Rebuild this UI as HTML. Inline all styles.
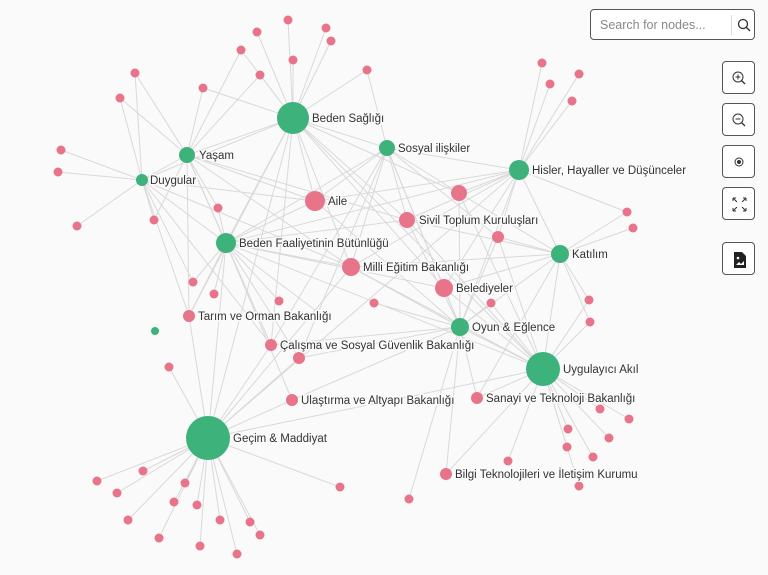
<!DOCTYPE html><html><head><meta charset="utf-8"><style>
body{margin:0;width:768px;height:575px;background:#fafafa;overflow:hidden;font-family:"Liberation Sans",sans-serif;position:relative}
svg{position:absolute;left:0;top:0}
.lab{font-size:11.5px;fill:#333;paint-order:stroke;stroke:#fafafa;stroke-width:3px}
.search{position:absolute;left:590px;top:9px;width:165px;height:31px;border:1px solid #555;border-radius:4px;background:#fff;box-sizing:border-box}
.search span{position:absolute;left:9px;top:8px;font-size:12.5px;color:#888}
.search i{position:absolute;left:140px;top:5px;width:1px;height:20px;background:#ddd}
.btn{position:absolute;left:722px;width:33px;height:33px;border:1px solid #555;border-radius:4px;background:#fff;box-sizing:border-box}
</style></head><body>
<svg width="768" height="575" id="g"><g id="edges" stroke="#d9d9d9" stroke-width="1"></g><g id="nodes"></g>
<g class="lab">
<text x="312" y="122">Beden Sağlığı</text>
<text x="199" y="159">Yaşam</text>
<text x="150" y="184">Duygular</text>
<text x="398" y="152">Sosyal ilişkiler</text>
<text x="532" y="174">Hisler, Hayaller ve Düşünceler</text>
<text x="328" y="205">Aile</text>
<text x="419" y="224">Sivil Toplum Kuruluşları</text>
<text x="239" y="247">Beden Faaliyetinin Bütünlüğü</text>
<text x="572" y="258">Katılım</text>
<text x="363" y="271">Milli Eğitim Bakanlığı</text>
<text x="456" y="292">Belediyeler</text>
<text x="198" y="320">Tarım ve Orman Bakanlığı</text>
<text x="472" y="331">Oyun &amp; Eğlence</text>
<text x="280" y="349">Çalışma ve Sosyal Güvenlik Bakanlığı</text>
<text x="563" y="373">Uygulayıcı Akıl</text>
<text x="486" y="402">Sanayi ve Teknoloji Bakanlığı</text>
<text x="301" y="404">Ulaştırma ve Altyapı Bakanlığı</text>
<text x="233" y="442">Geçim &amp; Maddiyat</text>
<text x="455" y="478">Bilgi Teknolojileri ve İletişim Kurumu</text>
</g></svg>
<div class="search"><span>Search for nodes...</span><i></i>
<svg width="14" height="14" style="left:146px;top:8px"><circle cx="6" cy="6" r="4.5" fill="none" stroke="#333" stroke-width="1.3"/><line x1="9" y1="9" x2="13" y2="13" stroke="#333" stroke-width="1.3"/></svg></div>
<div class="btn" style="top:61px"><svg width="33" height="33"><circle cx="15" cy="15" r="5" fill="none" stroke="#333"/><line x1="18.5" y1="18.5" x2="22" y2="22" stroke="#333" stroke-width="1.3"/><path d="M12.5 15h5M15 12.5v5" stroke="#333"/></svg></div>
<div class="btn" style="top:103px"><svg width="33" height="33"><circle cx="15" cy="15" r="5" fill="none" stroke="#333"/><line x1="18.5" y1="18.5" x2="22" y2="22" stroke="#333" stroke-width="1.3"/><path d="M12.5 15h5" stroke="#333"/></svg></div>
<div class="btn" style="top:145px"><svg width="33" height="33"><circle cx="16" cy="16" r="4" fill="none" stroke="#333"/><circle cx="16" cy="16" r="2" fill="#333"/></svg></div>
<div class="btn" style="top:187px"><svg width="33" height="33" stroke="#333" fill="none"><path d="M10 10l4 4M10 10h3M10 10v3M23 10l-4 4M23 10h-3M23 10v3M10 23l4-4M10 23h3M10 23v-3M23 23l-4-4M23 23h-3M23 23v-3"/></svg></div>
<div class="btn" style="top:242px"><svg width="33" height="33"><path d="M11 9h8l4 4v12h-12z" fill="#222"/><path d="M13 22l3-3 2 2 3-3v4h-8z" fill="#fff"/><circle cx="15" cy="15" r="1.3" fill="#fff"/></svg></div>
<script>
var G=[[293,118,16],[187,155,8],[142,180,6],[387,148,8],[519,170,10],[226,243,10],[560,254,9],[460,327,9],[543,369,17],[208,438,22],[155,331,4]];
var P=[[315,201,10],[407,220,8],[351,267,9],[444,288,9],[459,193,8],[189,316,6],[271,345,6],[292,400,6],[477,398,6],[446,474,6],[299,358,6],[498,237,6]];
var S=[[288,20],[257,32],[326,28],[331,41],[241,50],[293,60],[260,75],[367,70],[135,73],[203,88],[120,98],[61,150],[58,172],[218,208],[154,220],[77,226],[193,282],[214,294],[279,301],[323,316],[374,303],[491,303],[542,63],[579,74],[550,84],[572,101],[627,212],[633,228],[589,300],[590,322],[169,367],[600,409],[629,419],[568,429],[567,447],[609,438],[593,457],[579,486],[508,461],[409,499],[340,487],[97,481],[143,471],[117,493],[185,483],[174,502],[197,505],[128,520],[159,538],[200,546],[237,554],[220,520],[250,522],[260,535]];
var E=document.getElementById('edges'),N=document.getElementById('nodes'),ns='http://www.w3.org/2000/svg';
function L(a,b){var l=document.createElementNS(ns,'line');l.setAttribute('x1',a[0]);l.setAttribute('y1',a[1]);l.setAttribute('x2',b[0]);l.setAttribute('y2',b[1]);E.appendChild(l)}
function C(p,r,f){var c=document.createElementNS(ns,'circle');c.setAttribute('cx',p[0]);c.setAttribute('cy',p[1]);c.setAttribute('r',r);c.setAttribute('fill',f);N.appendChild(c)}
function d(a,b){return Math.hypot(a[0]-b[0],a[1]-b[1])}
var hubs=G.slice(0,10);
S.forEach(function(s){var h=hubs.slice().sort(function(a,b){return d(a,s)-d(b,s)});L(s,h[0]);if(d(h[1],s)<120)L(s,h[1])});
P.forEach(function(p){hubs.forEach(function(h){if(d(h,p)<230)L(p,h)})});
hubs.forEach(function(a,i){hubs.forEach(function(b,j){if(i<j&&d(a,b)<200)L(a,b)})});
[[0,9],[5,8],[9,8],[9,4],[5,4],[0,8],[1,5]].forEach(function(e){L(hubs[e[0]],hubs[e[1]])});
S.forEach(function(s){C(s,4.5,'#e8748a')});P.forEach(function(p){C(p,p[2],'#e8748a')});G.forEach(function(g){C(g,g[2],'#3db27b')});
</script>
</body></html>
